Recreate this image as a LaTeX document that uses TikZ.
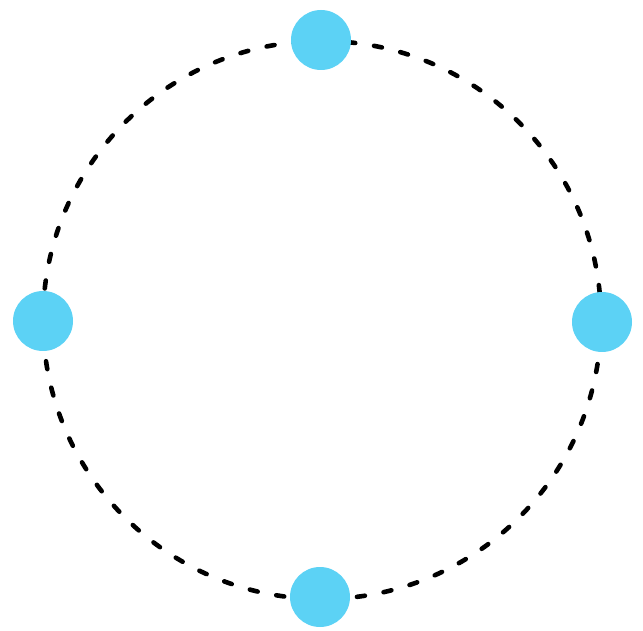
\documentclass[tikz,border=0pt]{standalone}
\definecolor{dotcyan}{RGB}{92,210,245}
\begin{document}
\begin{tikzpicture}[x=1pt,y=1pt,
  ring/.style={draw=black, line width=4.6pt, dash pattern=on 8pt off 19pt, line cap=round},
  dotnode/.style={circle, fill=dotcyan, inner sep=0pt, minimum size=60pt}]
\useasboundingbox (0,0) rectangle (643,630);
\coordinate (c) at (322,310);
\draw[ring] (c) circle (279);
\node[dotnode] (top) at (321,590) {};
\node[dotnode] (left) at (43,309) {};
\node[dotnode] (right) at (602,308) {};
\node[dotnode] (bottom) at (320,33) {};
\end{tikzpicture}
\end{document}
